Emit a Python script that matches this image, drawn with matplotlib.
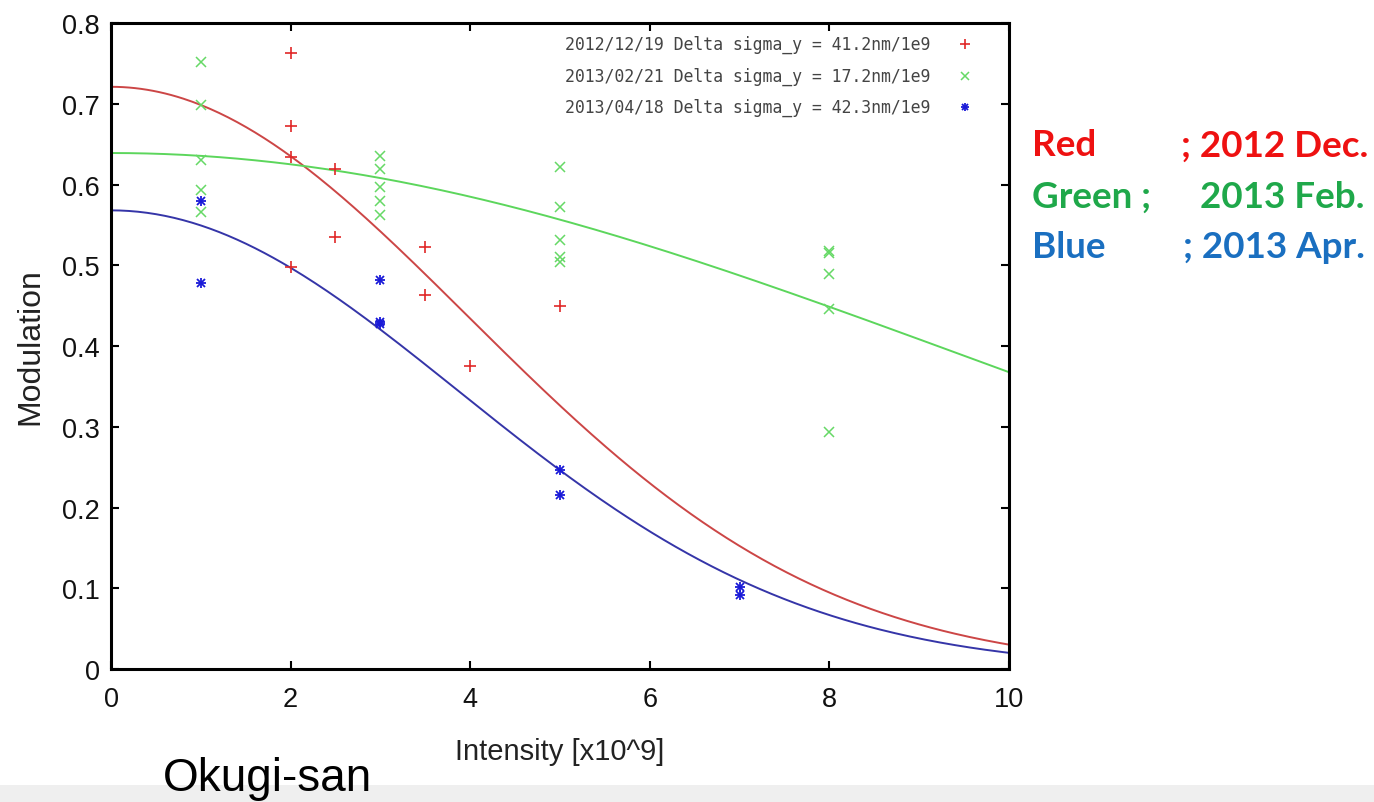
import numpy as np
import matplotlib
matplotlib.use("Agg")
import matplotlib.pyplot as plt

# ---------------- data ----------------
red_x = [2, 2, 2, 2, 2.5, 2.5, 3.5, 3.5, 4, 5]
red_y = [0.763, 0.672, 0.634, 0.498, 0.619, 0.535, 0.523, 0.463, 0.375, 0.450]

green_x = [1, 1, 1, 1, 1, 3, 3, 3, 3, 3, 5, 5, 5, 5, 5, 8, 8, 8, 8, 8]
green_y = [0.752, 0.698, 0.630, 0.593, 0.566,
           0.635, 0.619, 0.597, 0.580, 0.562,
           0.622, 0.572, 0.531, 0.510, 0.504,
           0.518, 0.515, 0.489, 0.446, 0.293]

blue_x = [1, 1, 3, 3, 3, 5, 5, 7, 7]
blue_y = [0.580, 0.478, 0.482, 0.427, 0.430, 0.246, 0.215, 0.102, 0.092]

# fit parameters: modulation at zero intensity, delta sigma_y [nm / 1e9]
fit_amp = [0.721, 0.639, 0.568]
fit_dsig = [41.2, 17.2, 42.3]

legend_labels = ["2012/12/19 Delta sigma_y = 41.2nm/1e9",
                 "2013/02/21 Delta sigma_y = 17.2nm/1e9",
                 "2013/04/18 Delta sigma_y = 42.3nm/1e9"]

note_names = ["Red", "Green ;", "Blue"]
note_dates = ["; 2012 Dec.", "2013 Feb.", "; 2013 Apr."]

x_ticks = [0, 2, 4, 6, 8, 10]
y_ticks = [0, 0.1, 0.2, 0.3, 0.4, 0.5, 0.6, 0.7, 0.8]
y_ticklabels = ["0", "0.1", "0.2", "0.3", "0.4", "0.5", "0.6", "0.7", "0.8"]

# Shintake monitor (30 deg mode, 532 nm laser): M = M0 exp(-2 ky^2 sigma^2)
wavelength_nm = 532.0
theta_deg = 30.0
ky = 2 * np.pi / wavelength_nm * np.sin(np.radians(theta_deg / 2))

# ---------------- styling ----------------
line_cols = ["#cc4646", "#5cd65c", "#3535a8"]
mark_cols = ["#e02828", "#66d966", "#1a1ad8"]
note_cols = ["#ee1111", "#1fa84a", "#1a6fc0"]

fig = plt.figure(figsize=(13.74, 8.03), dpi=100)
fig.patch.set_facecolor("white")
ax = fig.add_axes([0.0808, 0.1656, 0.6535, 0.8045])

xs = np.linspace(0, 10, 300)
for amp, ds, c in zip(fit_amp, fit_dsig, line_cols):
    ax.plot(xs, amp * np.exp(-2 * ky**2 * (ds * xs) ** 2), color=c, lw=1.4, zorder=2)

ax.plot(red_x, red_y, ls="none", marker="+", ms=8, mew=1.2, color=mark_cols[0], zorder=3)
ax.plot(green_x, green_y, ls="none", marker="x", ms=7, mew=1.1, color=mark_cols[1], zorder=3)
ax.plot(blue_x, blue_y, ls="none", marker="+", ms=7, mew=1.3, color=mark_cols[2], zorder=3)
ax.plot(blue_x, blue_y, ls="none", marker="x", ms=6, mew=1.3, color=mark_cols[2], zorder=3)

ax.set_xlim(0, 10)
ax.set_ylim(0, 0.8)
ax.set_xticks(x_ticks)
ax.set_yticks(y_ticks)
ax.set_yticklabels(y_ticklabels)
for s in ax.spines.values():
    s.set_linewidth(2.2)
    s.set_color("black")
ax.tick_params(direction="in", length=6, width=1.5, top=True, right=True,
               labelsize=19.5, colors="black")
ax.tick_params(axis="x", pad=12)
ax.tick_params(axis="y", pad=8)
for lab in ax.get_xticklabels() + ax.get_yticklabels():
    lab.set_fontfamily("Liberation Sans")
    lab.set_color("#111111")

ax.set_xlabel("Intensity [x10^9]", fontsize=21, family="Liberation Sans",
              color="#222222", labelpad=18)
ax.set_ylabel("Modulation", fontsize=23, family="Liberation Sans",
              color="#222222", labelpad=12)

# legend drawn manually (gnuplot-like, top-right inside axes)
leg_y = [0.967, 0.918, 0.870]
for i, (lab, yy) in enumerate(zip(legend_labels, leg_y)):
    ax.text(0.912, yy, lab, transform=ax.transAxes, ha="right", va="center",
            family="DejaVu Sans Mono", fontsize=11.9, color="#444444")
ax.plot([0.951], [leg_y[0]], transform=ax.transAxes, marker="+", ms=7, mew=1.2,
        color=mark_cols[0], ls="none")
ax.plot([0.951], [leg_y[1]], transform=ax.transAxes, marker="x", ms=6, mew=1.1,
        color=mark_cols[1], ls="none")
ax.plot([0.951], [leg_y[2]], transform=ax.transAxes, marker="+", ms=6, mew=1.3,
        color=mark_cols[2], ls="none")
ax.plot([0.951], [leg_y[2]], transform=ax.transAxes, marker="x", ms=5, mew=1.3,
        color=mark_cols[2], ls="none")

# right-hand colour notes
note_y = [1 - 146 / 803, 1 - 197 / 803, 1 - 248 / 803]
date_right = [1368 / 1374, 1365 / 1374, 1365 / 1374]
for name, date, col, yy, dx in zip(note_names, note_dates, note_cols, note_y, date_right):
    fig.text(1032 / 1374, yy, name, ha="left", va="center", fontsize=26.5,
             fontweight="bold", family="Lato", color=col)
    fig.text(dx, yy, date, ha="right", va="center", fontsize=26.5,
             fontweight="bold", family="Lato", color=col)

# bottom grey band and author note
fig.patches.append(plt.Rectangle((0, 0), 1, 17 / 803, transform=fig.transFigure,
                                 facecolor="#efefef", edgecolor="none", zorder=0))
fig.text(163 / 1374, 1 - 779 / 803, "Okugi-san", ha="left", va="center",
         fontsize=33, family="Liberation Sans", color="black")

fig.savefig("out.png", dpi=100)
